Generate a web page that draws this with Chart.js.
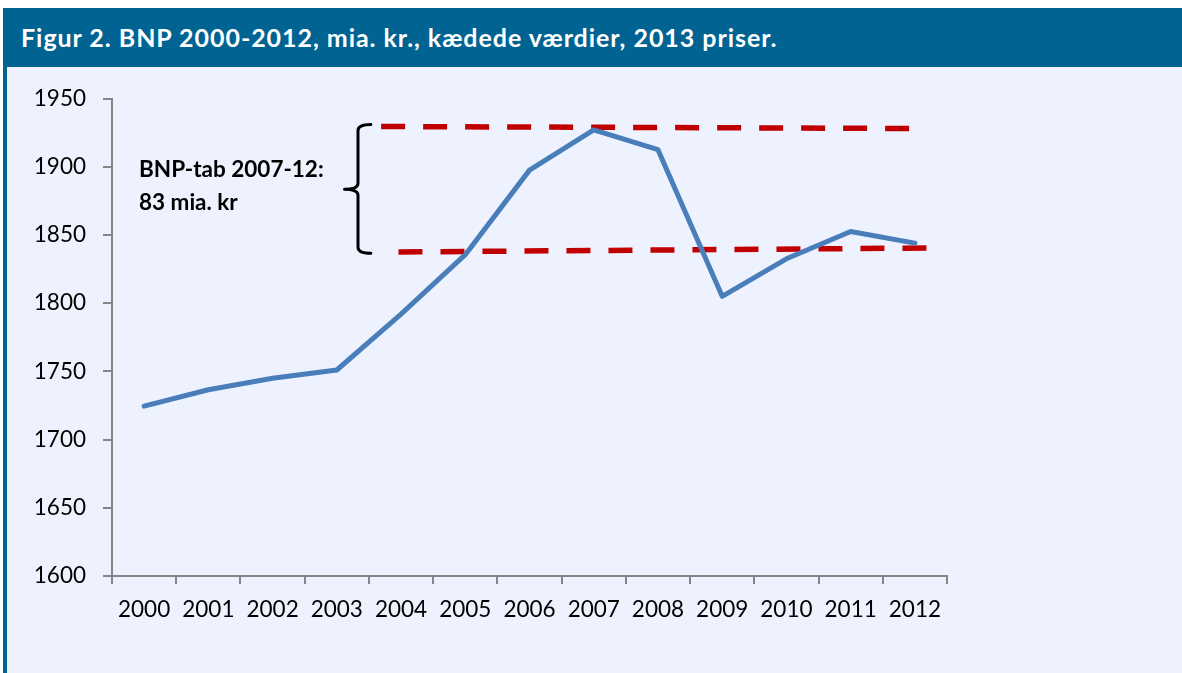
<!DOCTYPE html>
<html>
<head>
<meta charset="utf-8">
<script src="https://cdn.jsdelivr.net/npm/chart.js@4.4.1/dist/chart.umd.min.js"></script>
<style>
  html, body { margin: 0; padding: 0; background: #ffffff; width: 1182px; height: 673px; overflow: hidden; }
  #frame { position: absolute; left: 3px; top: 8px; width: 1179px; height: 665px; background: #eef2fe; }
  #header { position: absolute; left: 0; top: 0; width: 1179px; height: 59px; background: #006392; }
  #header span { position: absolute; left: 18px; top: 17px; color: #ffffff; font-family: Lato, "Open Sans", sans-serif; font-weight: bold; font-size: 25px; line-height: 25px; letter-spacing: 0.95px; white-space: nowrap; }
  #strip { position: absolute; left: 0; top: 0; width: 4px; height: 665px; background: #006392; }
  #wrap { position: absolute; left: 5px; top: 60px; width: 1174px; height: 605px; }
</style>
</head>
<body>
<div id="frame">
  <div id="header"><span id="title"></span></div>
  <div id="strip"></div>
  <div id="wrap"><canvas id="c"></canvas></div>
</div>
<script>
const titleText = "Figur 2. BNP 2000-2012, mia. kr., kædede værdier, 2013 priser.";
const years = ["2000","2001","2002","2003","2004","2005","2006","2007","2008","2009","2010","2011","2012"];
const bnp = [1724.5, 1736.5, 1745, 1751, 1792, 1835.5, 1897.5, 1927, 1912.5, 1805, 1832.5, 1852.5, 1844];
const upperLevel = [{x: 3.69, y: 1929.5}, {x: 12.02, y: 1928}];
const lowerLevel = [{x: 3.96, y: 1837.5}, {x: 12.24, y: 1840.4}];
const yTicks = [1600, 1650, 1700, 1750, 1800, 1850, 1900, 1950];
const noteLines = ["BNP-tab 2007-12:", "83 mia. kr"];
const bracket = {top: 1931, bottom: 1836.5, mid: 1883.5};

document.getElementById('title').textContent = titleText;

const FONT = "Lato, 'Open Sans', sans-serif";

const bracePlugin = {
  id: 'brace',
  afterDatasetsDraw(chart) {
    const ctx = chart.ctx;
    const xs = chart.scales.x2, ys = chart.scales.y;
    const xSp = xs.getPixelForValue(3.33), xTip = xs.getPixelForValue(3.12), xEnd = xs.getPixelForValue(3.53);
    const yT = ys.getPixelForValue(bracket.top), yB = ys.getPixelForValue(bracket.bottom), yM = ys.getPixelForValue(bracket.mid);
    const r = 6;
    ctx.save();
    ctx.strokeStyle = '#000000';
    ctx.lineWidth = 3;
    ctx.lineCap = 'round';
    ctx.lineJoin = 'round';
    ctx.beginPath();
    ctx.moveTo(xEnd, yT);
    ctx.quadraticCurveTo(xSp, yT, xSp, yT + r);
    ctx.lineTo(xSp, yM - r);
    ctx.quadraticCurveTo(xSp, yM, xTip, yM);
    ctx.moveTo(xTip, yM);
    ctx.quadraticCurveTo(xSp, yM, xSp, yM + r);
    ctx.lineTo(xSp, yB - r);
    ctx.quadraticCurveTo(xSp, yB, xEnd, yB);
    ctx.stroke();
    ctx.fillStyle = '#000000';
    ctx.font = "bold 22.5px " + FONT;
    ctx.textBaseline = 'alphabetic';
    ctx.textAlign = 'left';
    const tx = xs.getPixelForValue(-0.08);
    ctx.fillText(noteLines[0], tx, ys.getPixelForValue(1892.4));
    ctx.fillText(noteLines[1], tx, ys.getPixelForValue(1868.5));
    ctx.restore();
  }
};

new Chart(document.getElementById('c'), {
  type: 'line',
  data: {
    labels: years,
    datasets: [
      {
        label: 'BNP',
        data: bnp,
        xAxisID: 'x',
        borderColor: '#4a7ebb',
        borderWidth: 5,
        pointRadius: 0,
        tension: 0,
        borderCapStyle: 'round',
        borderJoinStyle: 'round',
        fill: false
      },
      {
        label: 'Niveau 2007',
        data: upperLevel,
        xAxisID: 'x2',
        borderColor: '#c00000',
        borderWidth: 5.5,
        borderDash: [24, 18],
        borderCapStyle: 'butt',
        pointRadius: 0,
        fill: false
      },
      {
        label: 'Niveau 2012',
        data: lowerLevel,
        xAxisID: 'x2',
        borderColor: '#c00000',
        borderWidth: 5.5,
        borderDash: [24, 18],
        borderCapStyle: 'butt',
        pointRadius: 0,
        fill: false
      }
    ]
  },
  options: {
    responsive: true,
    maintainAspectRatio: false,
    animation: false,
    layout: { padding: { left: 0, top: 30, right: 235, bottom: 0 } },
    plugins: { legend: { display: false }, tooltip: { enabled: false } },
    scales: {
      x: {
        type: 'category',
        offset: true,
        grid: { display: true, offset: true, drawOnChartArea: false, drawTicks: true, tickLength: 8, color: '#868686', lineWidth: 2 },
        border: { display: true, color: '#868686', width: 2 },
        ticks: { color: '#000000', font: { family: FONT, size: 22.5 }, padding: 12, maxRotation: 0, autoSkip: false },
        afterFit(scale) { scale.height = 97; }
      },
      x2: {
        type: 'linear',
        display: false,
        min: -0.5,
        max: 12.5
      },
      y: {
        min: 1600,
        max: 1950,
        afterBuildTicks(scale) { scale.ticks = yTicks.map(v => ({value: v})); },
        grid: { display: true, drawOnChartArea: false, drawTicks: true, tickLength: 9, color: '#868686', lineWidth: 2 },
        border: { display: true, color: '#868686', width: 2 },
        ticks: { color: '#000000', font: { family: FONT, size: 22.5 }, padding: 17, callback: (v) => String(v) },
        afterFit(scale) { scale.width = 104; }
      }
    }
  },
  plugins: [bracePlugin]
});
</script>
</body>
</html>
